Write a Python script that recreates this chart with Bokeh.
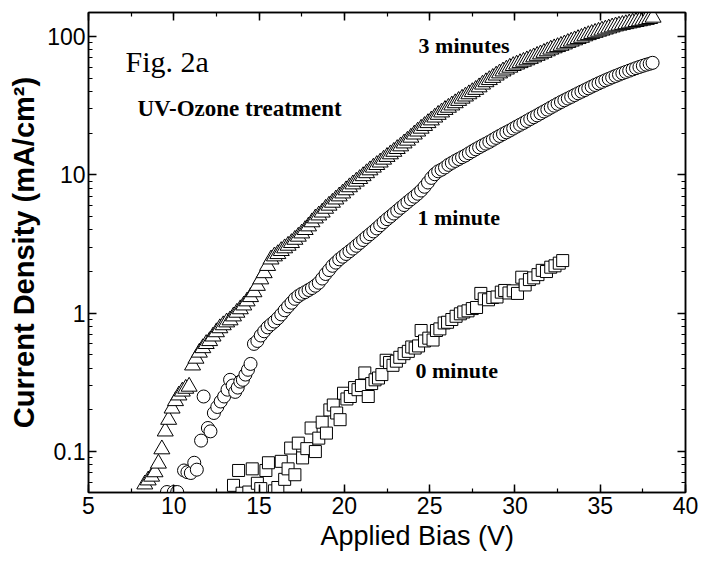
from bokeh.plotting import figure
from bokeh.models import (Range1d, LinearAxis, LogAxis, LogTicker, SingleIntervalTicker,
                          Label, Title, ColumnDataSource)
from bokeh.embed import file_html
from bokeh.resources import INLINE

# ---------------- data ----------------
tri_v = [8.3, 8.5, 8.7, 8.9, 9.1, 9.3, 9.5, 9.7, 9.9, 10.1,
         10.3, 10.5, 10.7, 10.9, 11.1, 11.3, 11.5, 11.7, 11.9, 12.1,
         12.3, 12.5, 12.7, 12.9, 13.1, 13.3, 13.5, 13.7, 13.9, 14.1,
         14.3, 14.5, 14.7, 14.9, 15.1, 15.3, 15.5, 15.7, 15.9, 16.1,
         16.3, 16.5, 16.7, 16.9, 17.1, 17.3, 17.5, 17.7, 17.9, 18.1,
         18.3, 18.5, 18.7, 18.9, 19.1, 19.3, 19.5, 19.7, 19.9, 20.1,
         20.3, 20.5, 20.7, 20.9, 21.1, 21.3, 21.5, 21.7, 21.9, 22.1,
         22.3, 22.5, 22.7, 22.9, 23.1, 23.3, 23.5, 23.7, 23.9, 24.1,
         24.3, 24.5, 24.7, 24.9, 25.1, 25.3, 25.5, 25.7, 25.9, 26.1,
         26.3, 26.5, 26.7, 26.9, 27.1, 27.3, 27.5, 27.7, 27.9, 28.1,
         28.3, 28.5, 28.7, 28.9, 29.1, 29.3, 29.5, 29.7, 29.9, 30.1,
         30.3, 30.5, 30.7, 30.9, 31.1, 31.3, 31.5, 31.7, 31.9, 32.1,
         32.3, 32.5, 32.7, 32.9, 33.1, 33.3, 33.5, 33.7, 33.9, 34.1,
         34.3, 34.5, 34.7, 34.9, 35.1, 35.3, 35.5, 35.7, 35.9, 36.1,
         36.3, 36.5, 36.7, 36.9, 37.1, 37.3, 37.5, 37.7, 37.9, 38.1]
tri_j = [0.058, 0.062, 0.066, 0.071, 0.082, 0.104, 0.140, 0.170, 0.205, 0.232,
         0.255, 0.272, 0.285, 0.295, 0.42, 0.47, 0.52, 0.56, 0.60, 0.63,
         0.68, 0.73, 0.78, 0.82, 0.86, 0.89, 0.95, 1.01, 1.07, 1.14,
         1.22, 1.31, 1.42, 1.58, 1.76, 1.95, 2.20, 2.45, 2.58, 2.68,
         2.82, 2.95, 3.08, 3.22, 3.40, 3.58, 3.78, 4.0, 4.25, 4.55,
         4.85, 5.1, 5.35, 5.7, 6.0, 6.3, 6.65, 7.0, 7.35, 7.75,
         8.15, 8.55, 8.95, 9.35, 9.8, 10.3, 10.8, 11.3, 11.8, 12.3,
         12.9, 13.5, 14.1, 14.7, 15.4, 16.1, 16.9, 17.7, 18.6, 19.6,
         20.6, 21.6, 22.6, 23.7, 24.8, 26.0, 27.2, 28.3, 29.5, 30.6,
         31.8, 33.0, 34.3, 35.6, 36.9, 38.3, 39.7, 41.2, 43.0, 45.0,
         46.8, 48.5, 50.3, 52.3, 54.2, 56.0, 57.8, 59.6, 61.3, 62.8,
         64.3, 65.8, 67.4, 69.0, 70.8, 72.6, 74.4, 76.3, 78.3, 80.5,
         82.3, 84.0, 85.8, 87.8, 90.0, 92.0, 94.0, 96.0, 98.0, 100.5,
         102.5, 104.5, 106.5, 108.5, 110.5, 112.5, 114.5, 116.5, 118.5, 120.0,
         121.5, 123.0, 124.5, 126.0, 127.5, 129.0, 130.5, 132.0, 134.0, 137.0]

circ_v = [9.6, 10.0, 10.2, 10.6, 10.8, 11.0, 11.2, 11.35, 11.6, 11.75,
          12.0, 12.15, 12.35, 12.55, 12.75, 12.95, 13.15, 13.3, 13.45, 13.6,
          13.75, 13.9, 14.05, 14.2, 14.35, 14.5,
          14.7, 14.9, 15.1, 15.3, 15.5, 15.7, 15.9, 16.1, 16.3, 16.5,
          16.7, 16.9, 17.1, 17.3, 17.5, 17.7, 17.9, 18.1, 18.3, 18.5,
          18.7, 18.9, 19.1, 19.3, 19.5, 19.7, 19.9, 20.1, 20.3, 20.5,
          20.7, 20.9, 21.1, 21.3, 21.5, 21.7, 21.9, 22.1, 22.3, 22.5,
          22.7, 22.9, 23.1, 23.3, 23.5, 23.7, 23.9, 24.1, 24.3, 24.5,
          24.7, 24.9, 25.1, 25.3, 25.5, 25.7, 25.9, 26.1, 26.3, 26.5,
          26.7, 26.9, 27.1, 27.3, 27.5, 27.7, 27.9, 28.1, 28.3, 28.5,
          28.7, 28.9, 29.1, 29.3, 29.5, 29.7, 29.9, 30.1, 30.3, 30.5,
          30.7, 30.9, 31.1, 31.3, 31.5, 31.7, 31.9, 32.1, 32.3, 32.5,
          32.7, 32.9, 33.1, 33.3, 33.5, 33.7, 33.9, 34.1, 34.3, 34.5,
          34.7, 34.9, 35.1, 35.3, 35.5, 35.7, 35.9, 36.1, 36.3, 36.5,
          36.7, 36.9, 37.1, 37.3, 37.5, 37.7, 37.9, 38.07]
circ_j = [0.051, 0.051, 0.051, 0.073, 0.071, 0.070, 0.083, 0.074, 0.120, 0.25,
          0.148, 0.14, 0.19, 0.21, 0.23, 0.25, 0.28, 0.33, 0.30, 0.27,
          0.29, 0.32, 0.33, 0.36, 0.39, 0.43,
          0.60, 0.63, 0.69, 0.74, 0.79, 0.83, 0.87, 0.92, 0.98, 1.05,
          1.12, 1.19, 1.27, 1.33, 1.38, 1.42, 1.47, 1.52, 1.58, 1.66,
          1.78, 1.92, 2.05, 2.2, 2.32, 2.45, 2.56, 2.68, 2.8, 2.93,
          3.07, 3.22, 3.38, 3.55, 3.72, 3.9, 4.1, 4.32, 4.55, 4.78,
          5.0, 5.25, 5.5, 5.78, 6.05, 6.35, 6.65, 6.95, 7.3, 7.7,
          8.2, 8.8, 9.5, 10.1, 10.6, 10.9, 11.3, 11.8, 12.2, 12.6,
          13.0, 13.4, 13.8, 14.3, 14.8, 15.3, 15.8, 16.3, 16.8, 17.3,
          17.9, 18.5, 19.1, 19.7, 20.3, 20.9, 21.6, 22.3, 23.0, 23.7,
          24.5, 25.3, 26.1, 26.9, 27.8, 28.7, 29.6, 30.6, 31.6, 32.6,
          33.6, 34.6, 35.6, 36.6, 37.7, 38.8, 39.9, 41.0, 42.2, 43.4,
          44.6, 45.8, 47.0, 48.2, 49.4, 50.6, 51.8, 53.0, 54.2, 55.4,
          56.6, 57.8, 59.0, 60.2, 61.4, 62.5, 63.5, 64.5]

sq_v = [13.5, 13.8, 14.0, 14.4, 14.6, 14.9, 15.1, 15.4, 15.55, 15.9,
        16.1, 16.3, 16.5, 16.7, 16.85, 17.1, 17.3, 17.55, 17.8, 18.05,
        18.3, 18.5, 18.7, 18.95, 19.15, 19.35, 19.55, 19.75, 19.95, 20.15,
        20.35, 20.6, 20.8, 21.0, 21.2, 21.4, 21.6, 21.8, 22.0, 22.2,
        22.45, 22.65, 22.85, 23.05, 23.25, 23.5, 23.75, 23.95, 24.15, 24.35,
        24.5, 24.7, 24.95, 25.2, 25.4, 25.6, 25.85, 26.05, 26.3, 26.55,
        26.8, 27.0, 27.25, 27.5, 27.75, 28.0, 28.2, 28.45, 28.7, 28.95,
        29.2, 29.4, 29.65, 29.9, 30.15, 30.4, 30.6, 30.85, 31.1, 31.35,
        31.6, 31.85, 32.1, 32.35, 32.6, 32.8]
sq_j = [0.057, 0.073, 0.050, 0.051, 0.075, 0.059, 0.054, 0.073, 0.083, 0.052,
        0.055, 0.085, 0.063, 0.075, 0.106, 0.068, 0.115, 0.09, 0.105, 0.148,
        0.10, 0.125, 0.163, 0.136, 0.20, 0.217, 0.19, 0.17, 0.264, 0.24,
        0.25, 0.29, 0.28, 0.30, 0.37, 0.25, 0.31, 0.33, 0.34, 0.36,
        0.457, 0.44, 0.42, 0.45, 0.48, 0.51, 0.53, 0.57, 0.56, 0.58,
        0.75, 0.63, 0.66, 0.64, 0.75, 0.77, 0.85, 0.86, 0.90, 0.95,
        0.99, 1.02, 1.04, 1.08, 1.10, 1.39, 1.27, 1.25, 1.30, 1.31,
        1.42, 1.46, 1.40, 1.45, 1.39, 1.82, 1.60, 1.75, 1.80, 1.90,
        2.04, 2.00, 2.15, 2.20, 2.30, 2.40]

series_labels = ["3 minutes", "1 minute", "0 minute"]
y_tick_values = [0.1, 1, 10, 100]
y_tick_labels = ["0.1", "1", "10", "100"]

# ---------------- figure ----------------
SANS = "Liberation Sans"
SERIF = "Liberation Serif"

p = figure(width=701, height=565, output_backend="svg", toolbar_location=None,
           x_range=Range1d(5, 40), y_range=Range1d(0.0506, 149),
           y_axis_type="log",
           min_border_left=88, min_border_right=16, min_border_top=12, min_border_bottom=73)
p.background_fill_color = "white"
p.border_fill_color = "white"
p.xgrid.visible = False
p.ygrid.visible = False
p.outline_line_color = "black"
p.outline_line_width = 1.5

xt = SingleIntervalTicker(interval=5, num_minor_ticks=2)
yt = LogTicker(num_minor_ticks=10)

def style_axis(ax, labels=True):
    ax.axis_line_color = "black"
    ax.axis_line_width = 1.5
    ax.major_tick_line_color = "black"
    ax.minor_tick_line_color = "black"
    ax.major_tick_line_width = 1.5
    ax.minor_tick_line_width = 1.2
    ax.major_tick_in = 8
    ax.major_tick_out = 0
    ax.minor_tick_in = 4
    ax.minor_tick_out = 0
    if labels:
        ax.major_label_text_font = SANS
        ax.major_label_text_font_size = "23px"
        ax.major_label_text_color = "black"
    else:
        ax.major_label_text_font_size = "0px"
        ax.major_label_text_color = None
        ax.major_label_standoff = 0

xa = p.xaxis[0]
xa.ticker = xt
style_axis(xa)
xa.major_label_standoff = 4

ya = p.yaxis[0]
ya.ticker = yt
style_axis(ya)
ya.major_label_standoff = 3
ya.major_label_overrides = dict(zip(y_tick_values, y_tick_labels))
ya.axis_label = "Current Density (mA/cm\u00b2)"
ya.axis_label_text_font = SANS
ya.axis_label_text_font_style = "bold"
ya.axis_label_text_font_size = "29px"
ya.axis_label_text_color = "black"
ya.axis_label_standoff = 4

top = LinearAxis(ticker=SingleIntervalTicker(interval=5, num_minor_ticks=2))
style_axis(top, labels=False)
p.add_layout(top, "above")
right = LogAxis(ticker=LogTicker(num_minor_ticks=10))
style_axis(right, labels=False)
p.add_layout(right, "right")

# x-axis title, placed like the original (a little right of centre)
p.add_layout(Title(text="Applied Bias (V)", align="left", offset=232, standoff=4,
                   text_font=SANS, text_font_style="normal", text_font_size="27px",
                   text_color="black"), "below")

# ---------------- data marks ----------------
common = dict(line_color="black", fill_color="white", line_width=1.0)
p.scatter("v", "j", source=ColumnDataSource(dict(v=sq_v, j=sq_j)),
          marker="square", size=12, **common)
p.scatter("v", "j", source=ColumnDataSource(dict(v=circ_v, j=circ_j)),
          marker="circle", size=13, **common)
p.scatter("v", "j", source=ColumnDataSource(dict(v=tri_v, j=tri_j)),
          marker="triangle", size=16, **common)

# ---------------- annotations ----------------
p.add_layout(Label(x=7.17, y=66, text="Fig. 2a", text_font=SERIF,
                   text_font_size="30px", text_color="black", text_baseline="alphabetic"))
p.add_layout(Label(x=7.87, y=30, text="UV-Ozone treatment", text_font=SERIF,
                   text_font_style="bold", text_font_size="23px", text_color="black",
                   text_baseline="alphabetic"))
for lx, ly, txt in [(24.35, 86, series_labels[0]), (24.29, 4.9, series_labels[1]),
                    (24.17, 0.385, series_labels[2])]:
    p.add_layout(Label(x=lx, y=ly, text=txt, text_font=SERIF, text_font_style="bold",
                       text_font_size="22px", text_color="black", text_baseline="alphabetic"))

open("out.html", "w").write(file_html(p, INLINE))
